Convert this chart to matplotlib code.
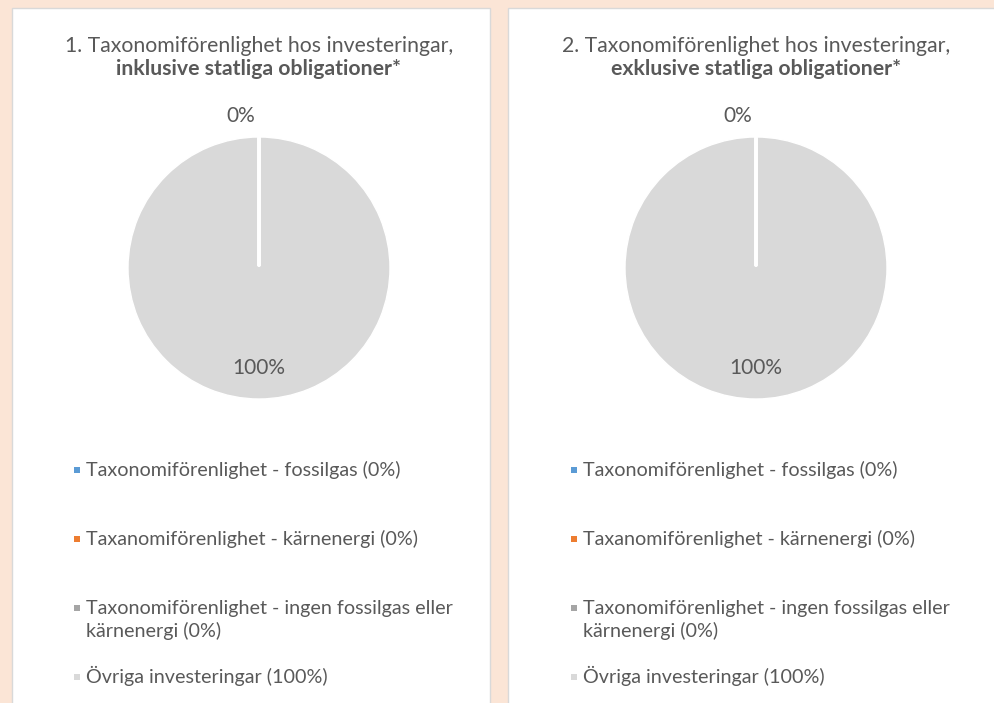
import matplotlib.pyplot as plt
from matplotlib.patches import Rectangle
import numpy as np

plt.rcParams['font.family'] = ['Lato', 'DejaVu Sans']

# data
categories = [
    "Taxonomiförenlighet - fossilgas",
    "Taxanomiförenlighet - kärnenergi",
    "Taxonomiförenlighet - ingen fossilgas eller\nkärnenergi",
    "Övriga investeringar",
]
incl_values = [0, 0, 0, 100]
excl_values = [0, 0, 0, 100]
colors = ["#5B9BD5", "#ED7D31", "#A5A5A5", "#D9D9D9"]

titles = [
    ("1. Taxonomiförenlighet hos investeringar,", "inklusive statliga obligationer*"),
    ("2. Taxonomiförenlighet hos investeringar,", "exklusive statliga obligationer*"),
]

W, H = 994, 703
text_col = "#595959"
fig = plt.figure(figsize=(W / 100, H / 100), dpi=100)
fig.patch.set_facecolor("#FBE5D6")


def px(x, y):
    return x / W, 1 - y / H


# white panels
for x0, x1 in [(12, 490), (508, 1000)]:
    fig.add_artist(Rectangle(px(x0, 712), (x1 - x0) / W, (712 - 8) / H,
                             transform=fig.transFigure, facecolor="white",
                             edgecolor="#D9D9D9", linewidth=1, zorder=0))

R = 131
line_px = 23
for k, (vals, cx, (t1, t2)) in enumerate(zip([incl_values, excl_values], [259, 756], titles)):
    fig.text(*px(cx, 46), t1, ha="center", va="center", fontsize=15.3, color=text_col)
    fig.text(*px(cx, 69), t2, ha="center", va="center", fontsize=15.3,
             color=text_col, fontweight="bold")

    ax = fig.add_axes([(cx - R) / W, 1 - (268 + R) / H, 2 * R / W, 2 * R / H])
    wedges, _, autotexts = ax.pie(
        vals, colors=colors, startangle=90, counterclock=False, radius=1,
        autopct=lambda p: f"{p:.0f}%", pctdistance=0.76,
        wedgeprops=dict(edgecolor="white", linewidth=1),
        textprops=dict(fontsize=15, color=text_col))
    ax.set_xlim(-1, 1)
    ax.set_ylim(-1, 1)
    ax.axis("off")
    shown_zero = False
    for w, t, v in zip(wedges, autotexts, vals):
        t.set_clip_on(False)
        if v == 0:
            ang = np.deg2rad(w.theta1)
            # zero-size slice: white separator line
            ax.plot([0, np.cos(ang)], [0.02, np.sin(ang) * 1.01],
                    color="white", lw=2.6, solid_capstyle="round")
            if shown_zero:
                t.set_visible(False)
                continue
            shown_zero = True
            t.set_ha("right")
            t.set_position((1.16 * np.cos(ang) - 0.03, 1.16 * np.sin(ang)))

    # legend
    mx = cx - 182
    total = sum(vals)
    for i, (lab, col, v) in enumerate(zip(categories, colors, vals)):
        y = 470 + i * 69
        nlines = lab.count("\n") + 1
        fig.add_artist(Rectangle(px(mx - 3, y + 3), 6 / W, 6 / H,
                                 transform=fig.transFigure, facecolor=col,
                                 edgecolor="none"))
        fig.text(*px(mx + 9, y + 6 + (nlines - 1) * line_px),
                 f"{lab} ({v / total * 100:.0f}%)",
                 ha="left", va="baseline", fontsize=14.2, color=text_col,
                 linespacing=1.35)

fig.savefig("out.png", dpi=100, facecolor=fig.get_facecolor())
